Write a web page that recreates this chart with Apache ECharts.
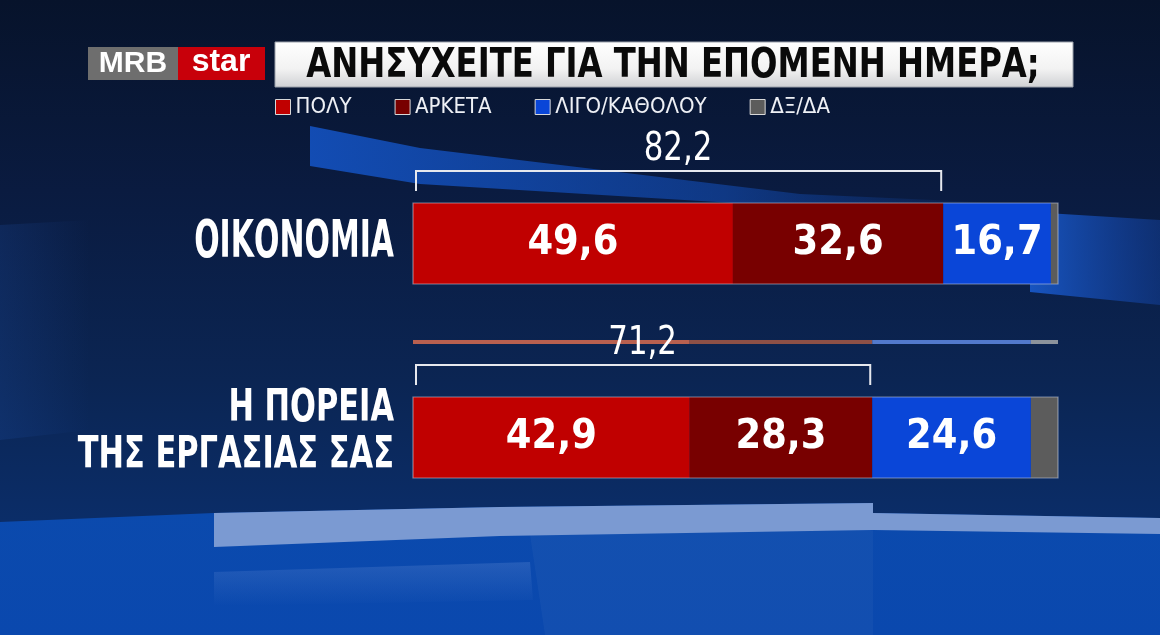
<!DOCTYPE html>
<html><head><meta charset="utf-8">
<script src="https://cdn.jsdelivr.net/npm/echarts@6/dist/echarts.min.js"></script>
<style>html,body{margin:0;padding:0;background:#0a1a3c}#c{width:1160px;height:635px}</style>
</head><body><div id="c"></div>
<script>
const categories = ['ΟΙΚΟΝΟΜΙΑ', 'Η ΠΟΡΕΙΑ\nΤΗΣ ΕΡΓΑΣΙΑΣ ΣΑΣ'];
const seriesNames = ['ΠΟΛΥ', 'ΑΡΚΕΤΑ', 'ΛΙΓΟ/ΚΑΘΟΛΟΥ', 'ΔΞ/ΔΑ'];
const valuesPoly = [49.6, 42.9];
const valuesArketa = [32.6, 28.3];
const valuesLigo = [16.7, 24.6];
const valuesDkDa = [1.1, 4.2];
const bracketTotals = [82.2, 71.2];
const titleText = 'ΑΝΗΣΥΧΕΙΤΕ ΓΙΑ ΤΗΝ ΕΠΟΜΕΝΗ ΗΜΕΡΑ;';

const FONT = "'DejaVu Sans Condensed','DejaVu Sans',sans-serif";
const colors = ['#c00000', '#780000', '#0a46d8', '#5c5c5c'];
const ghostColors = ['#b8604f', '#8d5046', '#5279cc', '#8c939c'];
const seriesValues = [valuesPoly, valuesArketa, valuesLigo, valuesDkDa];
const fmt = v => Number(v).toFixed(1).replace('.', ',');
const HALF = 40.5;

const chart = echarts.init(document.getElementById('c'), null, {renderer: 'canvas'});

const barSeries = seriesNames.map((name, k) => ({
  type: 'bar', name, stack: 'total', data: seriesValues[k], barWidth: 81,
  itemStyle: {color: colors[k]},
  label: {
    show: k < 3, position: 'inside', formatter: p => fmt(p.value),
    color: '#ffffff', fontFamily: FONT, fontWeight: 'bold', fontSize: 41
  },
  z: 3
}));

const outlineSeries = {
  type: 'custom', name: 'outline', data: categories.map((c, i) => [100, i]),
  encode: {x: 0, y: 1}, z: 4, silent: true,
  renderItem: (params, api) => {
    const p0 = api.coord([0, api.value(1)]);
    const p1 = api.coord([api.value(0), api.value(1)]);
    return {type: 'rect', shape: {x: p0[0], y: p0[1] - HALF, width: p1[0] - p0[0], height: HALF * 2},
      style: {fill: null, stroke: 'rgba(200,210,228,0.55)', lineWidth: 1.2}};
  }
};

const categoryLabelSeries = {
  type: 'custom', name: 'catLabels', data: categories.map((c, i) => [0, i]),
  encode: {x: 0, y: 1}, z: 5, silent: true,
  renderItem: (params, api) => {
    const label = categories[params.dataIndex];
    const multi = label.indexOf('\n') >= 0;
    const p = api.coord([0, api.value(1)]);
    return {type: 'text', x: p[0] - 19, y: p[1] + (multi ? -4 : 0), scaleX: multi ? 0.77 : 0.64,
      style: {text: label, fill: '#ffffff', fontSize: multi ? 44 : 52, lineHeight: 47, fontWeight: 'bold',
        fontFamily: FONT, align: 'right', verticalAlign: 'middle'}};
  }
};

const bracketSeries = {
  type: 'custom', name: 'bracket', data: bracketTotals.map((v, i) => [v, i]),
  encode: {x: 0, y: 1}, z: 5, silent: true,
  renderItem: (params, api) => {
    const v = api.value(0), c = api.value(1);
    const p0 = api.coord([0, c]), p1 = api.coord([v, c]);
    const top = p0[1] - HALF;
    const y = top - 32, yt = top - 12;
    return {type: 'group', children: [
      {type: 'polyline', shape: {points: [[p0[0] + 3, yt], [p0[0] + 3, y], [p1[0] - 2, y], [p1[0] - 2, yt]]},
        style: {stroke: '#e6e8ee', lineWidth: 2, fill: null}},
      {type: 'text', x: (p0[0] + p1[0]) / 2, y: top - 53, scaleX: 0.88,
        style: {text: fmt(v), fill: '#ffffff', fontSize: 39, fontFamily: FONT, align: 'center', verticalAlign: 'middle'}}
    ]};
  }
};

// faint ghost strip above the second bar (repeats its segments)
const ghostSeries = {
  type: 'custom', name: 'ghost',
  data: [[valuesPoly[1], valuesArketa[1], valuesLigo[1], valuesDkDa[1], 1]],
  encode: {x: [0, 1, 2, 3], y: 4}, z: 2, silent: true,
  renderItem: (params, api) => {
    const c = api.value(4);
    let acc = 0;
    const children = [];
    for (let k = 0; k < 4; k++) {
      const a = api.coord([acc, c]);
      acc += api.value(k);
      const b = api.coord([acc, c]);
      children.push({type: 'rect', shape: {x: a[0], y: a[1] - HALF - 57, width: b[0] - a[0], height: 4},
        style: {fill: ghostColors[k]}});
    }
    return {type: 'group', children};
  }
};

const bg = [
  {type: 'rect', z: -20, shape: {x: 0, y: 0, width: 1160, height: 635}, silent: true,
    style: {fill: new echarts.graphic.LinearGradient(0, 0, 0, 1, [
      {offset: 0, color: '#07132b'}, {offset: 0.3, color: '#0a1b40'},
      {offset: 0.6, color: '#0b2553'}, {offset: 0.82, color: '#0b2d68'}, {offset: 1, color: '#0b2f70'}])}},
  {type: 'polygon', z: -19, silent: true,
    shape: {points: [[0, 225], [90, 220], [90, 430], [0, 440]]},
    style: {fill: new echarts.graphic.LinearGradient(0, 0, 1, 0, [
      {offset: 0, color: 'rgba(30,80,170,0.22)'}, {offset: 1, color: 'rgba(30,80,170,0)'}])}},
  {type: 'polygon', z: -18, silent: true,
    shape: {points: [[310, 126], [420, 148], [800, 194], [1000, 203], [800, 207], [420, 184], [310, 166]]},
    style: {fill: new echarts.graphic.LinearGradient(0, 0, 1, 0, [
      {offset: 0, color: 'rgba(20,85,200,0.85)'}, {offset: 0.6, color: 'rgba(20,85,200,0.5)'}, {offset: 1, color: 'rgba(20,85,200,0)'}])}},
  {type: 'polygon', z: -18, silent: true,
    shape: {points: [[1030, 212], [1160, 220], [1160, 305], [1030, 292]]},
    style: {fill: new echarts.graphic.LinearGradient(0, 0, 1, 0, [
      {offset: 0, color: 'rgba(25,90,205,0.9)'}, {offset: 1, color: 'rgba(20,70,170,0.45)'}])}},
  {type: 'polygon', z: -17, silent: true,
    shape: {points: [[0, 522], [214, 513], [500, 507], [873, 503], [873, 513], [1160, 518], [1160, 635], [0, 635]]},
    style: {fill: new echarts.graphic.LinearGradient(0, 0, 0, 1, [
      {offset: 0, color: '#0b4aad'}, {offset: 1, color: '#0a48ae'}])}},
  {type: 'polygon', z: -16, silent: true,
    shape: {points: [[530, 535], [873, 530], [873, 635], [545, 635]]},
    style: {fill: 'rgba(255,255,255,0.035)'}},
  {type: 'polygon', z: -16, silent: true,
    shape: {points: [[214, 572], [530, 562], [533, 600], [214, 606]]},
    style: {fill: new echarts.graphic.LinearGradient(0, 0, 0, 1, [
      {offset: 0, color: 'rgba(140,170,230,0.2)'}, {offset: 1, color: 'rgba(140,170,230,0)'}])}},
  {type: 'polygon', z: -15, silent: true,
    shape: {points: [[214, 513], [500, 507], [873, 503], [873, 513], [1160, 518], [1160, 534], [873, 530], [500, 536], [214, 547]]},
    style: {fill: '#7b9ad2'}},
  // logo
  {type: 'rect', z: 10, shape: {x: 88, y: 47, width: 90, height: 33}, style: {fill: '#6e6e6e'}},
  {type: 'rect', z: 10, shape: {x: 178, y: 47, width: 87, height: 33}, style: {fill: '#c8000a'}},
  {type: 'text', z: 11, x: 133, y: 64, style: {text: 'MRB', fill: '#ffffff', fontSize: 30, fontWeight: 'bold', fontFamily: "'Liberation Sans', Arial, sans-serif", align: 'center', verticalAlign: 'middle'}},
  {type: 'text', z: 11, x: 221, y: 62, style: {text: 'star', fill: '#ffffff', fontSize: 32, fontWeight: 'bold', fontFamily: "'Liberation Sans', Arial, sans-serif", align: 'center', verticalAlign: 'middle'}},
  // title bar
  {type: 'rect', z: 10, shape: {x: 275, y: 42, width: 798, height: 45},
    style: {fill: new echarts.graphic.LinearGradient(0, 0, 0, 1, [
      {offset: 0, color: '#ffffff'}, {offset: 0.6, color: '#f2f2f2'}, {offset: 1, color: '#cfd0d3'}]), stroke: '#9aa0aa', lineWidth: 1}},
  {type: 'text', z: 11, x: 673, y: 67, scaleX: 0.897, style: {text: titleText, fill: '#0a0a0a', fontSize: 40, fontWeight: 'bold', fontFamily: FONT, align: 'center', verticalAlign: 'middle'}}
];

chart.setOption({
  animation: false,
  graphic: {elements: bg},
  legend: {
    data: seriesNames, left: 275, top: 96, padding: 0, icon: 'rect', itemWidth: 15, itemHeight: 15, itemGap: 43,
    itemStyle: {borderColor: '#d8d8d8', borderWidth: 1},
    textStyle: {color: '#eef0f5', fontSize: 22, fontFamily: FONT, padding: [2, 0, 0, 0]},
    selectedMode: false
  },
  grid: {left: 413, right: 102, top: 146.5, bottom: 100.5, outerBoundsMode: 'none'},
  xAxis: {type: 'value', min: 0, max: 100, show: false},
  yAxis: {
    type: 'category', data: categories, inverse: true,
    axisLine: {show: false}, axisTick: {show: false}, splitLine: {show: false},
    axisLabel: {show: false}
  },
  series: [...barSeries, outlineSeries, categoryLabelSeries, bracketSeries, ghostSeries]
});
</script></body></html>
